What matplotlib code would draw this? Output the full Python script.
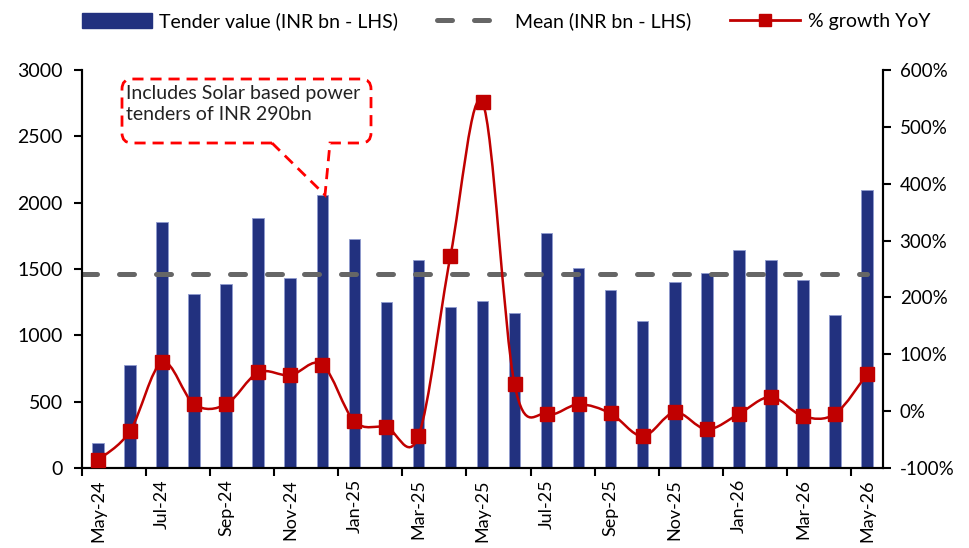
import matplotlib
matplotlib.use("Agg")
import matplotlib.pyplot as plt
import numpy as np
from matplotlib.path import Path
from matplotlib.patches import PathPatch
from matplotlib.transforms import Affine2D
from matplotlib.lines import Line2D
from matplotlib.patches import Patch

plt.rcParams['font.family'] = ['Lato', 'DejaVu Sans']

# Données
months = ['May-24', 'Jun-24', 'Jul-24', 'Aug-24', 'Sep-24', 'Oct-24', 'Nov-24', 'Dec-24',
          'Jan-25', 'Feb-25', 'Mar-25', 'Apr-25', 'May-25', 'Jun-25', 'Jul-25', 'Aug-25',
          'Sep-25', 'Oct-25', 'Nov-25', 'Dec-25', 'Jan-26', 'Feb-26', 'Mar-26', 'Apr-26', 'May-26']
tender_value = [190, 780, 1855, 1315, 1385, 1885, 1430, 2060, 1725, 1250, 1565, 1215, 1260,
                1165, 1770, 1510, 1340, 1110, 1405, 1470, 1640, 1570, 1415, 1155, 2095]
mean_value = 1460
growth_yoy = [-86, -35, 86, 12, 12, 68, 63, 82, -18, -28, -44, 273, 543,
              47, -5, 12, -4, -44, -2, -32, -5, 25, -9, -5, 65]

BAR_COLOR = '#22317F'
RED = '#C00000'
GREY = '#666666'


def smooth_path(xs, ys):
    # courbe lissée type Excel (Catmull-Rom -> Bézier)
    pts = np.column_stack([xs, ys]).astype(float)
    n = len(pts)
    verts = [pts[0]]
    codes = [Path.MOVETO]
    for i in range(n - 1):
        p0 = pts[i - 1] if i > 0 else pts[i]
        p1 = pts[i]
        p2 = pts[i + 1]
        p3 = pts[i + 2] if i + 2 < n else pts[i + 1]
        c1 = p1 + (p2 - p0) / 6.0
        c2 = p2 - (p3 - p1) / 6.0
        verts += [c1, c2, p2]
        codes += [Path.CURVE4] * 3
    return Path(verts, codes)


fig = plt.figure(figsize=(9.7, 5.48), dpi=100)
ax = fig.add_axes([82 / 970, 1 - 468 / 548, (883 - 82) / 970, (468 - 70) / 548])
x = np.arange(len(months))

ax.bar(x, tender_value, width=0.36, color=BAR_COLOR, edgecolor='#8f9bcf', linewidth=0.6, zorder=2)
ax.plot([-0.5, x[-1]], [mean_value, mean_value], color=GREY, lw=3.6,
        dashes=(3, 4.4), dash_capstyle='round', zorder=3)
ax.set_xlim(-0.5, len(months) - 0.5)
ax.set_ylim(0, 3000)
ax.set_yticks(np.arange(0, 3001, 500))

ax2 = ax.twinx()
ax2.set_ylim(-100, 600)
ax2.set_yticks(np.arange(-100, 601, 100))
ax2.set_yticklabels([f'{v}%' for v in range(-100, 601, 100)])
ax2.add_patch(PathPatch(smooth_path(x, growth_yoy), fill=False, edgecolor=RED, lw=1.8, zorder=4))
ax2.plot(x, growth_yoy, ls='none', marker='s', ms=10, color=RED, zorder=5, clip_on=False)

# Axes et graduations
ax.set_xticks(np.arange(-0.5, len(months) - 1, 2))
ax.set_xticklabels([])
ax.set_xticks(x[::2], minor=True)
ax.set_xticklabels(months[::2], minor=True, rotation=90)
ax.tick_params(axis='x', which='major', length=6, width=1.5, direction='out')
ax.tick_params(axis='x', which='minor', length=0, pad=8, labelsize=13)
ax.tick_params(axis='y', length=6, width=1.5, labelsize=14, pad=8)
ax2.tick_params(axis='y', length=6, width=1.5, labelsize=13.5, pad=6)
for a in (ax, ax2):
    a.spines['top'].set_visible(False)
    for s in ('left', 'right', 'bottom'):
        a.spines[s].set_linewidth(1.5)

# Bulle d'annotation
r = 10
box = [(272, 143), (122 + r, 143), (122, 143), (122, 143 - r), (122, 79 + r), (122, 79), (122 + r, 79),
       (371 - r, 79), (371, 79), (371, 79 + r), (371, 143 - r), (371, 143), (371 - r, 143),
       (330, 143), (325, 195), (272, 143)]
bcodes = [Path.MOVETO, Path.LINETO, Path.CURVE3, Path.CURVE3, Path.LINETO, Path.CURVE3, Path.CURVE3,
          Path.LINETO, Path.CURVE3, Path.CURVE3, Path.LINETO, Path.CURVE3, Path.CURVE3,
          Path.LINETO, Path.LINETO, Path.LINETO]
px = Affine2D().scale(1 / 970, -1 / 548).translate(0, 1) + fig.transFigure
fig.patches.append(PathPatch(Path(box, bcodes), transform=px, fill=False, edgecolor='#FF0000',
                             lw=2, linestyle=(0, (4, 2.5)), zorder=10))
fig.text(126 / 970, 1 - 85 / 548, 'Includes Solar based power\ntenders of INR 290bn',
         fontsize=14, va='top', ha='left', linespacing=1.3, color='#222222')

# Légende
handles = [Patch(facecolor=BAR_COLOR, edgecolor=BAR_COLOR),
           Line2D([], [], color=GREY, lw=3.6, dashes=(3, 4.4), dash_capstyle='round'),
           Line2D([], [], color=RED, lw=2, marker='s', ms=9)]
labels = ['Tender value (INR bn - LHS)', 'Mean (INR bn - LHS)', '% growth YoY']
fig.legend(handles, labels, loc='center', bbox_to_anchor=(0.5 + 21 / 970, 1 - 21 / 548), ncol=3,
           frameon=False, fontsize=14, handlelength=3.6, handleheight=0.8,
           columnspacing=2.0, handletextpad=0.4)

fig.savefig('out.png', dpi=100)
